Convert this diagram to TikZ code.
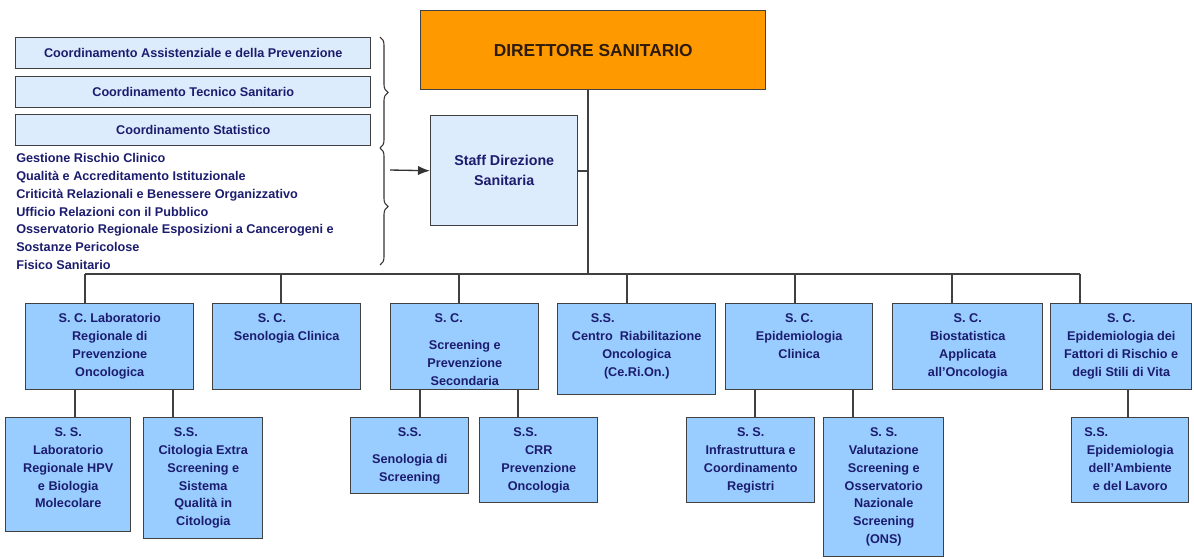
\documentclass[tikz,border=0pt]{standalone}
\usepackage{fontspec}
\setmainfont{Liberation Sans}
\usetikzlibrary{arrows.meta,decorations.pathreplacing}

\definecolor{dirorange}{RGB}{255,153,0}
\definecolor{dirtext}{RGB}{45,28,12}
\definecolor{unitblue}{RGB}{153,204,255}
\definecolor{staffblue}{RGB}{221,236,252}
\definecolor{navy}{RGB}{28,28,110}
\definecolor{edge}{RGB}{64,64,64}

\begin{document}
\begin{tikzpicture}[x=0.75pt, y=-0.75pt,
  box/.style={draw=edge, line width=1.1pt, anchor=north west, inner sep=0pt},
  boxsize/.style args={#1 by #2}{minimum width=#1*0.75pt, minimum height=#2*0.75pt},
  unit/.style={box, fill=unitblue},
  unittext/.style={anchor=north, yshift=-7.8pt, align=center, text=navy, inner sep=0pt,
    font=\fontsize{9.5}{13.4}\selectfont\bfseries},
  coord/.style={box, fill=staffblue, boxsize=355 by 31, text=navy,
    font=\fontsize{9.5}{11}\selectfont\bfseries},
  link/.style={draw=edge, line width=1.5pt},
  brace/.style={draw=black!80, line width=0.8pt, decorate, decoration={brace, amplitude=6pt}}
]
\useasboundingbox (0,0) rectangle (1194,558);

% direzione e staff
\node[box, fill=dirorange, boxsize=345 by 79, text=dirtext,
  font=\fontsize{13}{15}\selectfont\bfseries] (dir) at (420,10) {DIRETTORE SANITARIO};
\node[coord] (co1) at (15,37) {Coordinamento Assistenziale e della Prevenzione};
\node[coord] (co2) at (15,76) {Coordinamento Tecnico Sanitario};
\node[coord] (co3) at (15,114) {Coordinamento Statistico};
\node[anchor=north west, inner sep=0pt, align=left, text=navy,
  font=\fontsize{9.5}{13.4}\selectfont\bfseries] (stafflist) at (16,153)
  {Gestione Rischio Clinico\\
   Qualità e Accreditamento Istituzionale\\
   Criticità Relazionali e Benessere Organizzativo\\
   Ufficio Relazioni con il Pubblico\\
   Osservatorio Regionale Esposizioni a Cancerogeni e\\
   Sostanze Pericolose\\
   Fisico Sanitario};
\node[box, fill=staffblue, boxsize=147 by 110, align=center, text=navy,
  font=\fontsize{10.7}{15}\selectfont\bfseries] (staff) at (430,115) {Staff Direzione\\Sanitaria};

\draw[brace] (380,37) -- (380,148);
\draw[brace] (380,148) -- (380,265);
\coordinate (bracetip) at (390,170);
\draw[draw=black!80, line width=1pt, -{Latex[length=9pt,width=7pt]}] (bracetip) -- (staff.west);

% strutture complesse
\node[unit, boxsize=168 by 86, label={[unittext]north:{S. C. Laboratorio\\Regionale di\\Prevenzione\\Oncologica}}] (u1) at (25,303) {};
\node[unit, boxsize=148 by 86, label={[unittext]north:{S. C.\hspace*{22pt}\\Senologia Clinica}}] (u2) at (212,303) {};
\node[unit, boxsize=148 by 86, label={[unittext]north:{S. C.\hspace*{24pt}\\[7pt]Screening e\\Prevenzione\\Secondaria}}] (u3) at (390,303) {};
\node[unit, boxsize=158 by 91, label={[unittext]north:{S.S.\hspace*{51pt}\\Centro~ Riabilitazione\\Oncologica\\(Ce.Ri.On.)}}] (u4) at (557,303) {};
\node[unit, boxsize=147 by 86, label={[unittext]north:{S. C.\\Epidemiologia\\Clinica}}] (u5) at (725,303) {};
\node[unit, boxsize=150 by 86, label={[unittext]north:{S. C.\\Biostatistica\\Applicata\\all'Oncologia}}] (u6) at (892,303) {};
\node[unit, boxsize=141 by 86, label={[unittext]north:{S. C.\\Epidemiologia dei\\Fattori di Rischio e\\degli Stili di Vita}}] (u7) at (1050,303) {};

% strutture semplici
\node[unit, boxsize=125 by 114, label={[unittext]north:{S. S.\\Laboratorio\\Regionale HPV\\e Biologia\\Molecolare}}] (sa) at (5,417) {};
\node[unit, boxsize=119 by 121, label={[unittext]north:{S.S.\hspace*{26pt}\\Citologia Extra\\Screening e\\Sistema\\Qualità in\\Citologia}}] (sb) at (143,417) {};
\node[unit, boxsize=118 by 76, label={[unittext]north:{S.S.\\[7pt]Senologia di\\Screening}}] (sc) at (350,417) {};
\node[unit, boxsize=118 by 85, label={[unittext]north:{S.S.\hspace*{20pt}\\CRR\\Prevenzione\\Oncologia}}] (sd) at (479,417) {};
\node[unit, boxsize=128 by 85, label={[unittext]north:{S. S.\\Infrastruttura e\\Coordinamento\\Registri}}] (se) at (686,417) {};
\node[unit, boxsize=120 by 139, label={[unittext]north:{S. S.\\Valutazione\\Screening e\\Osservatorio\\Nazionale\\Screening\\(ONS)}}] (sf) at (823,417) {};
\node[unit, boxsize=117 by 85, label={[unittext]north:{S.S.\hspace*{51pt}\\Epidemiologia\\dell'Ambiente\\e del Lavoro}}] (sg) at (1071,417) {};

% collegamenti
\coordinate (bus) at (588,274);
\draw[link] (dir.south -| bus) -- (bus);
\draw[link] (staff.east) -- (staff.east -| bus);
\draw[link] (85,274) -- (1080,274);
\foreach \u/\x in {u1/85, u2/281, u3/459, u4/627, u5/795, u6/952, u7/1080}
  \draw[link] (\u.north -| \x,0) -- (\x,274);
\foreach \u/\s/\x in {u1/sa/75, u1/sb/173, u3/sc/420, u3/sd/518, u5/se/755, u5/sf/853, u7/sg/1128}
  \draw[link] (\u.south -| \x,0) -- (\s.north -| \x,0);
\end{tikzpicture}
\end{document}
